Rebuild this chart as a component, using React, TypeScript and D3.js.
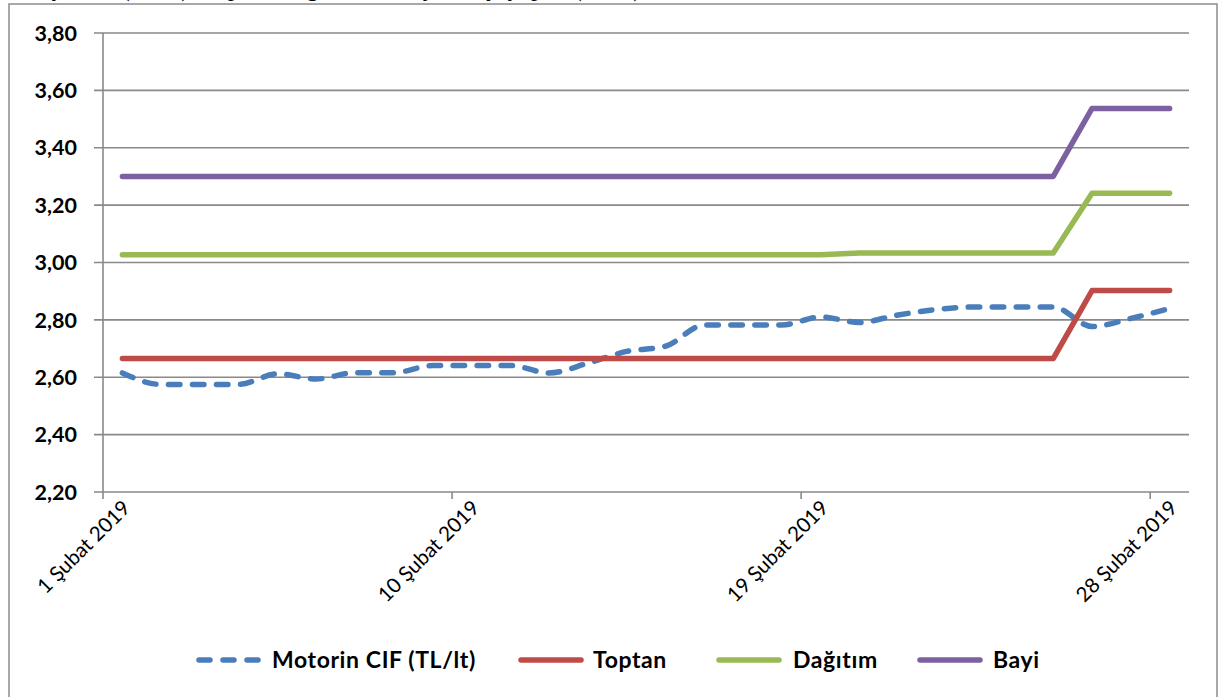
import React from "react";
import * as d3 from "d3";

const dates = [
  "1 Şubat 2019","2 Şubat 2019","3 Şubat 2019","4 Şubat 2019","5 Şubat 2019","6 Şubat 2019","7 Şubat 2019",
  "8 Şubat 2019","9 Şubat 2019","10 Şubat 2019","11 Şubat 2019","12 Şubat 2019","13 Şubat 2019","14 Şubat 2019",
  "15 Şubat 2019","16 Şubat 2019","17 Şubat 2019","18 Şubat 2019","19 Şubat 2019","20 Şubat 2019","21 Şubat 2019",
  "22 Şubat 2019","23 Şubat 2019","24 Şubat 2019","25 Şubat 2019","26 Şubat 2019","27 Şubat 2019","28 Şubat 2019",
];
const tickDates = ["1 Şubat 2019", "10 Şubat 2019", "19 Şubat 2019", "28 Şubat 2019"];
const yTicks = [2.2, 2.4, 2.6, 2.8, 3.0, 3.2, 3.4, 3.6, 3.8];

const motorin = [2.615, 2.575, 2.575, 2.575, 2.612, 2.594, 2.616, 2.616, 2.641, 2.641, 2.641, 2.615, 2.649, 2.69,
  2.708, 2.782, 2.782, 2.782, 2.81, 2.791, 2.817, 2.836, 2.845, 2.845, 2.845, 2.777, 2.805, 2.84];
const toptan = [2.665, 2.665, 2.665, 2.665, 2.665, 2.665, 2.665, 2.665, 2.665, 2.665, 2.665, 2.665, 2.665, 2.665,
  2.665, 2.665, 2.665, 2.665, 2.665, 2.665, 2.665, 2.665, 2.665, 2.665, 2.665, 2.902, 2.902, 2.902];
const dagitim = [3.027, 3.027, 3.027, 3.027, 3.027, 3.027, 3.027, 3.027, 3.027, 3.027, 3.027, 3.027, 3.027, 3.027,
  3.027, 3.027, 3.027, 3.027, 3.027, 3.033, 3.033, 3.033, 3.033, 3.033, 3.033, 3.241, 3.241, 3.241];
const bayi = [3.30, 3.30, 3.30, 3.30, 3.30, 3.30, 3.30, 3.30, 3.30, 3.30, 3.30, 3.30, 3.30, 3.30,
  3.30, 3.30, 3.30, 3.30, 3.30, 3.30, 3.30, 3.30, 3.30, 3.30, 3.30, 3.537, 3.537, 3.537];

const seriesNames = ["Motorin CIF (TL/lt)", "Toptan", "Dağıtım", "Bayi"];
const seriesColors = ["#4A7EBB", "#BE4B48", "#98B954", "#7D60A0"];

const W = 1219, H = 697;
const left = 103, right = 1189, top = 33, bottom = 492;
const FONT = "Lato, 'Liberation Sans', sans-serif";

export default function App() {
  const x = d3.scaleBand<string>().domain(dates).range([left, right]).paddingInner(0).paddingOuter(0);
  const y = d3.scaleLinear().domain([2.2, 3.8]).range([bottom, top]);
  const cx = (d: string) => (x(d) as number) + x.bandwidth() / 2;

  const straight = d3.line<number>().x((_, i) => cx(dates[i])).y((v) => y(v));
  const smooth = d3.line<number>().x((_, i) => cx(dates[i])).y((v) => y(v)).curve(d3.curveMonotoneX);

  const seriesData = [motorin, toptan, dagitim, bayi];
  const gridColor = "#898989";

  const legendItems = [
    { lx: 196, tx: 272 },
    { lx: 518, tx: 593 },
    { lx: 716, tx: 793 },
    { lx: 917, tx: 993 },
  ];
  const legendY = 660;

  return (
    <svg width={W} height={H} style={{ position: "absolute", left: 0, top: 0, background: "#fff" }}>
      <rect x={0} y={0} width={W} height={H} fill="#fff" />
      <text x={-20} y={-4} fontFamily="'Liberation Serif', serif" fontSize={25} fill="#000">
        yakıt fiyatları (TL/lt), Toptan Dağıtım ve Bayi marjı yapısı (TL/lt), 2019
      </text>
      <rect x={9} y={4} width={1208} height={740} fill="none" stroke="#8c8c8c" strokeWidth={1.5} />

      {yTicks.map((t) => (
        <g key={t}>
          <line x1={94} x2={right} y1={y(t)} y2={y(t)} stroke={gridColor} strokeWidth={1.6} />
          <text x={77} y={y(t)} dy="0.36em" textAnchor="end" fontFamily={FONT} fontWeight="bold" fontSize={21.5} fill="#000">
            {t.toFixed(2).replace(".", ",")}
          </text>
        </g>
      ))}
      <line x1={left} x2={left} y1={top} y2={bottom} stroke={gridColor} strokeWidth={1.6} />
      {tickDates.map((d) => (
        <g key={d}>
          <line x1={x(d) as number} x2={x(d) as number} y1={bottom} y2={bottom + 7} stroke={gridColor} strokeWidth={1.6} />
          <text
            transform={`translate(${cx(d) + 4},${bottom + 12}) rotate(-45)`}
            textAnchor="end"
            dy="0.35em"
            fontFamily={FONT}
            fontSize={20.5}
            fill="#000"
          >
            {d}
          </text>
        </g>
      ))}

      {seriesData.map((s, i) => (
        <path
          key={seriesNames[i]}
          d={(i === 0 ? smooth(s) : straight(s)) as string}
          fill="none"
          stroke={seriesColors[i]}
          strokeWidth={5.5}
          strokeLinecap="round"
          strokeLinejoin="round"
          strokeDasharray={i === 0 ? "11.5 12.5" : undefined}
        />
      ))}

      {seriesNames.map((n, i) => (
        <g key={n}>
          <line
            x1={legendItems[i].lx + 3}
            x2={legendItems[i].lx + 63}
            y1={legendY}
            y2={legendY}
            stroke={seriesColors[i]}
            strokeWidth={5.5}
            strokeLinecap="round"
            strokeDasharray={i === 0 ? "11 13" : undefined}
          />
          <text x={legendItems[i].tx} y={legendY} dy="0.36em" fontFamily={FONT} fontWeight="bold" fontSize={23} letterSpacing={0.6} fill="#000">
            {n}
          </text>
        </g>
      ))}
    </svg>
  );
}
